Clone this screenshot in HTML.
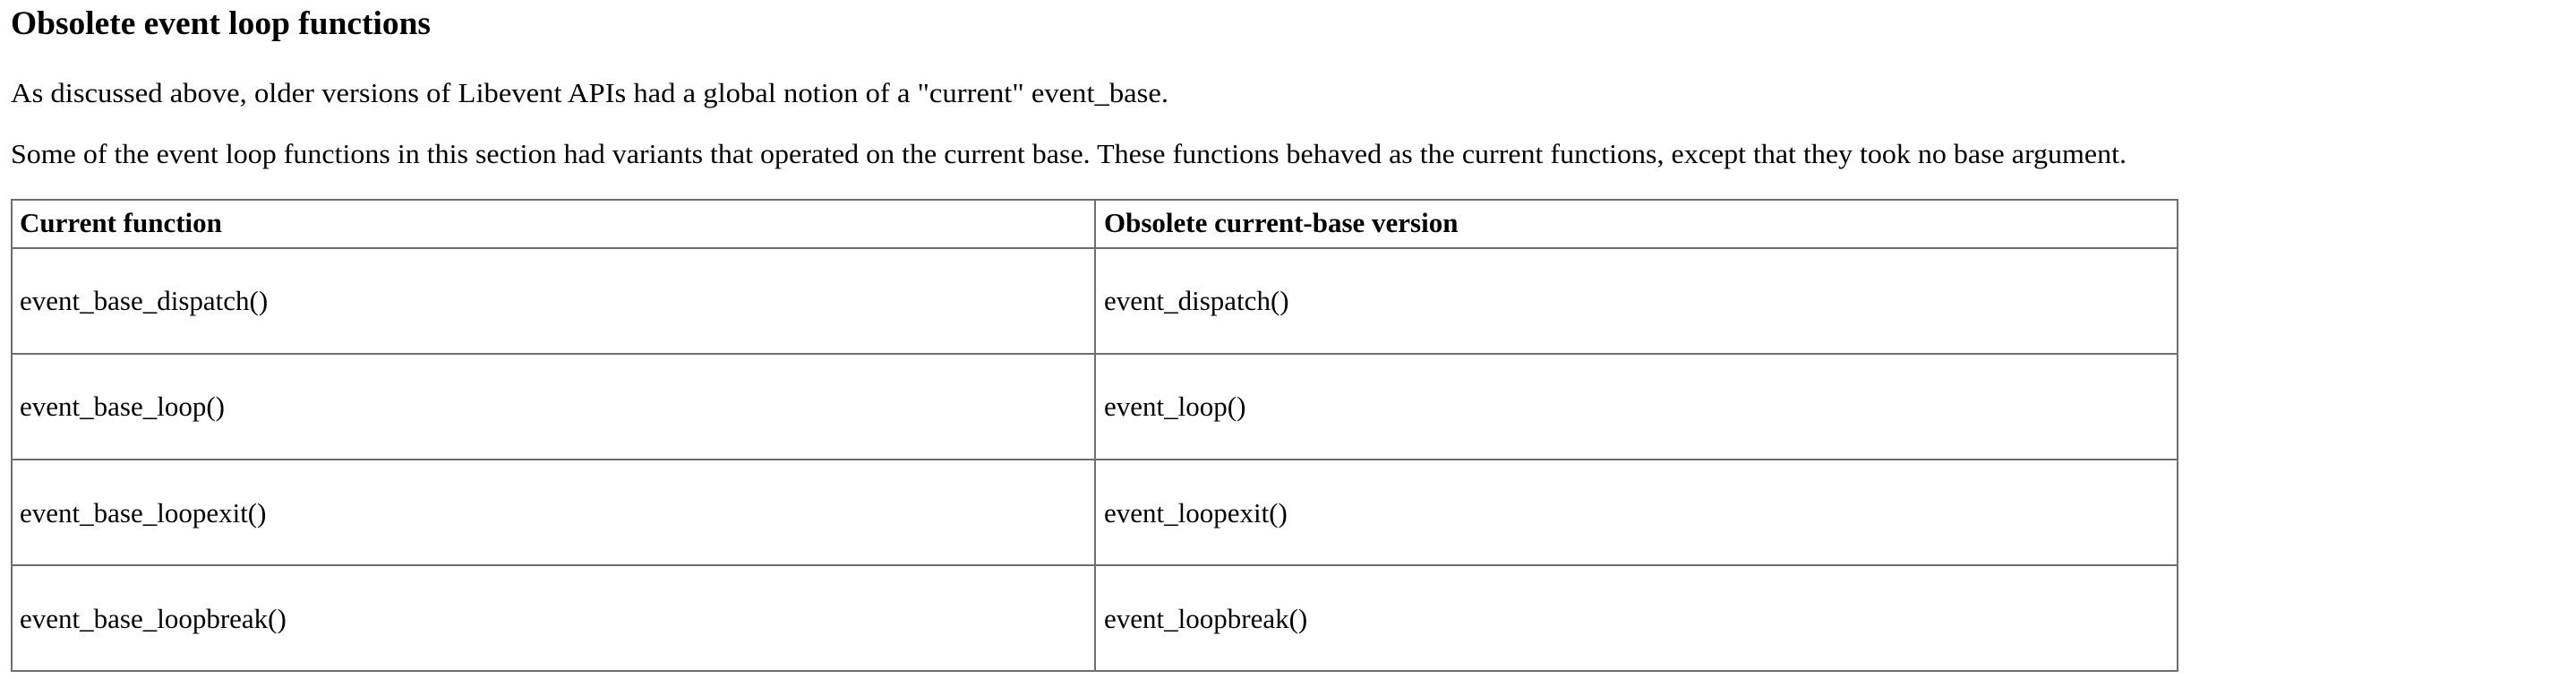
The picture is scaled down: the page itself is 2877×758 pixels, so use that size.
<!DOCTYPE html>
<html><head><meta charset="utf-8"><style>
html,body{margin:0;padding:0;background:#fff;width:2877px;height:758px;overflow:hidden}
svg{display:block}
text{font-family:"Liberation Serif","Times New Roman",serif;fill:#000}
.b{font-size:31px}
.h{font-size:31px;font-weight:bold}
</style></head><body>
<svg width="2877" height="758" viewBox="0 0 2877 758" xmlns="http://www.w3.org/2000/svg">
<text x="12" y="38" style="font-size:37px;font-weight:bold" textLength="469" lengthAdjust="spacingAndGlyphs">Obsolete event loop functions</text>
<text x="12" y="114" class="b" textLength="1293" lengthAdjust="spacingAndGlyphs">As discussed above, older versions of Libevent APIs had a global notion of a "current" event_base.</text>
<text x="12" y="182" class="b" textLength="2363" lengthAdjust="spacingAndGlyphs">Some of the event loop functions in this section had variants that operated on the current base. These functions behaved as the current functions, except that they took no base argument.</text>
<g fill="none" stroke="#6e6e6e" stroke-width="2">
<rect x="13" y="223" width="2419" height="526"/>
<line x1="1223" y1="223" x2="1223" y2="749"/>
<line x1="13" y1="277" x2="2432" y2="277"/>
<line x1="13" y1="395" x2="2432" y2="395"/>
<line x1="13" y1="513" x2="2432" y2="513"/>
<line x1="13" y1="631" x2="2432" y2="631"/>
</g>
<text x="22" y="259" class="h">Current function</text>
<text x="1233" y="259" class="h">Obsolete current-base version</text>
<text x="22" y="346" class="b">event_base_dispatch()</text>
<text x="1233" y="346" class="b">event_dispatch()</text>
<text x="22" y="464" class="b">event_base_loop()</text>
<text x="1233" y="464" class="b">event_loop()</text>
<text x="22" y="583" class="b">event_base_loopexit()</text>
<text x="1233" y="583" class="b">event_loopexit()</text>
<text x="22" y="701" class="b">event_base_loopbreak()</text>
<text x="1233" y="701" class="b">event_loopbreak()</text>
</svg>
</body></html>
